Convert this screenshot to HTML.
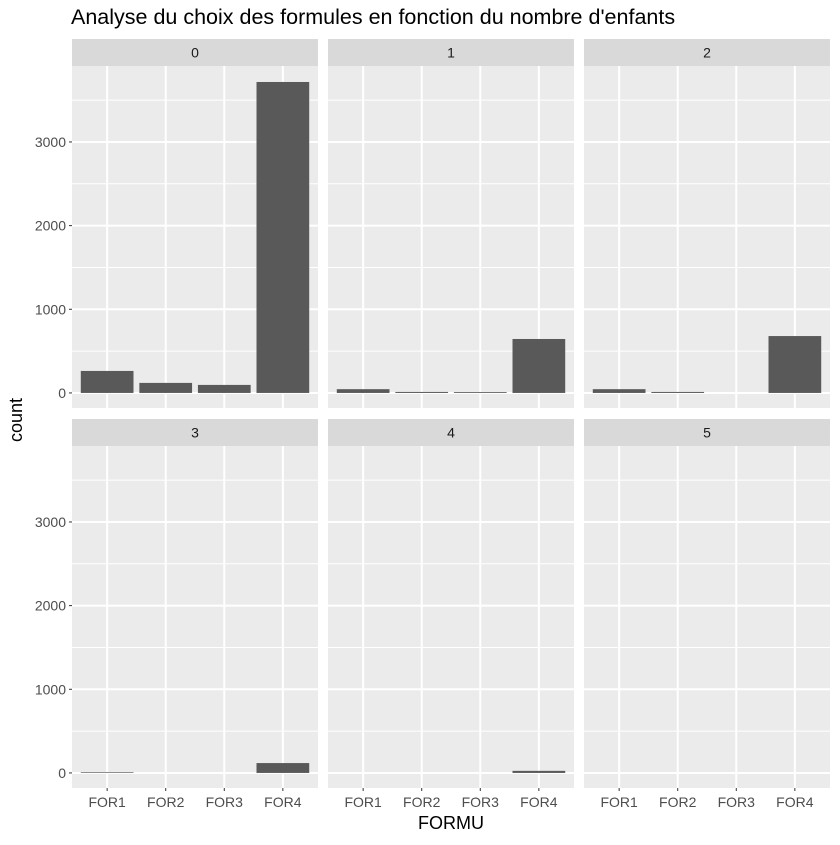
<!DOCTYPE html>
<html><head><meta charset="utf-8"><style>
body{margin:0;background:#fff}
svg text{font-family:"Liberation Sans",sans-serif}
</style></head><body>
<svg id="c" width="840" height="840" xmlns="http://www.w3.org/2000/svg">
<rect width="840" height="840" fill="#fff"/>
<text x="71" y="24" font-size="21.5" fill="#000">Analyse du choix des formules en fonction du nombre d'enfants</text>
<text x="22" y="420" font-size="18" text-anchor="middle" transform="rotate(-90 22 420)">count</text>
<text x="451" y="829" font-size="18" text-anchor="middle">FORMU</text>
<g id="plots"></g>
</svg>
<script>
const facets = ["0","1","2","3","4","5"];
const categories = ["FOR1","FOR2","FOR3","FOR4"];
const counts0 = [263, 120, 96, 3717];
const counts1 = [45, 12, 10, 645];
const counts2 = [45, 12, 0, 680];
const counts3 = [8, 0, 0, 118];
const counts4 = [0, 0, 0, 25];
const counts5 = [0, 0, 0, 0];
const yTicks = [0, 1000, 2000, 3000];
const allCounts = [counts0, counts1, counts2, counts3, counts4, counts5];

const NS = "http://www.w3.org/2000/svg";
const g = document.getElementById("plots");
function mk(tag, attrs, parent){const e=document.createElementNS(NS,tag);for(const k in attrs)e.setAttribute(k,attrs[k]);(parent||g).appendChild(e);return e;}
const colX = [72, 328, 584], pw = 246;
const rowY = [66, 446], ph = 342, stripH = 27;
const yMin = -180, yMax = 3908;
facets.forEach((f, i) => {
  const col = i % 3, row = Math.floor(i / 3);
  const x0 = colX[col], y0 = rowY[row];
  const yScale = v => y0 + ph - (v - yMin) / (yMax - yMin) * ph;
  const xScale = j => x0 + (j + 1 - 0.4) / 4.2 * pw;
  const bw = 0.9 / 4.2 * pw;
  const panel = mk("g", {});
  
  
  const strip = mk("rect", {x: x0, y: y0 - stripH, width: pw, height: stripH, fill: "#d9d9d9"}, panel);
  
  
  const st = mk("text", {x: x0 + pw / 2, y: y0 - stripH / 2 + 5, "font-size": 14, "text-anchor": "middle", fill: "#1a1a1a"}, panel);
  st.textContent = f;
  
  
  mk("rect", {x: x0, y: y0, width: pw, height: ph, fill: "#ebebeb"}, panel);
  yTicks.forEach((t) => {
    const ym = yScale(t + 500);
    if (ym > y0) mk("line", {x1: x0, x2: x0 + pw, y1: ym, y2: ym, stroke: "#fff", "stroke-width": 1}, panel);
    const yy = yScale(t);
    mk("line", {x1: x0, x2: x0 + pw, y1: yy, y2: yy, stroke: "#fff", "stroke-width": 2}, panel);
    if (col === 0) {
      mk("line", {x1: x0 - 3, x2: x0, y1: yy, y2: yy, stroke: "#333"}, panel);
      const tl = mk("text", {x: x0 - 6, y: yy + 5, "font-size": 14, "text-anchor": "end", fill: "#4d4d4d"}, panel);
      tl.textContent = t;
      
      
    }
  });
  mk("line", {x1: x0, x2: x0 + pw, y1: yScale(-500), y2: yScale(-500), stroke: "#fff"}, panel);
  categories.forEach((c, j) => {
    const cx = xScale(j);
    mk("line", {x1: cx, x2: cx, y1: y0, y2: y0 + ph, stroke: "#fff", "stroke-width": 2}, panel);
    const v = allCounts[i][j];
    if (v > 0) {
      const b = mk("rect", {x: cx - bw / 2, y: yScale(v), width: bw, height: yScale(0) - yScale(v), fill: "#595959"}, panel);
      
      
    }
    if (row === 1) {
      mk("line", {x1: cx, x2: cx, y1: y0 + ph, y2: y0 + ph + 3, stroke: "#333"}, panel);
      const xl = mk("text", {x: cx, y: y0 + ph + 19, "font-size": 14, "text-anchor": "middle", fill: "#4d4d4d"}, panel);
      xl.textContent = c;
      
      
    }
  });
});
</script>
</body></html>
